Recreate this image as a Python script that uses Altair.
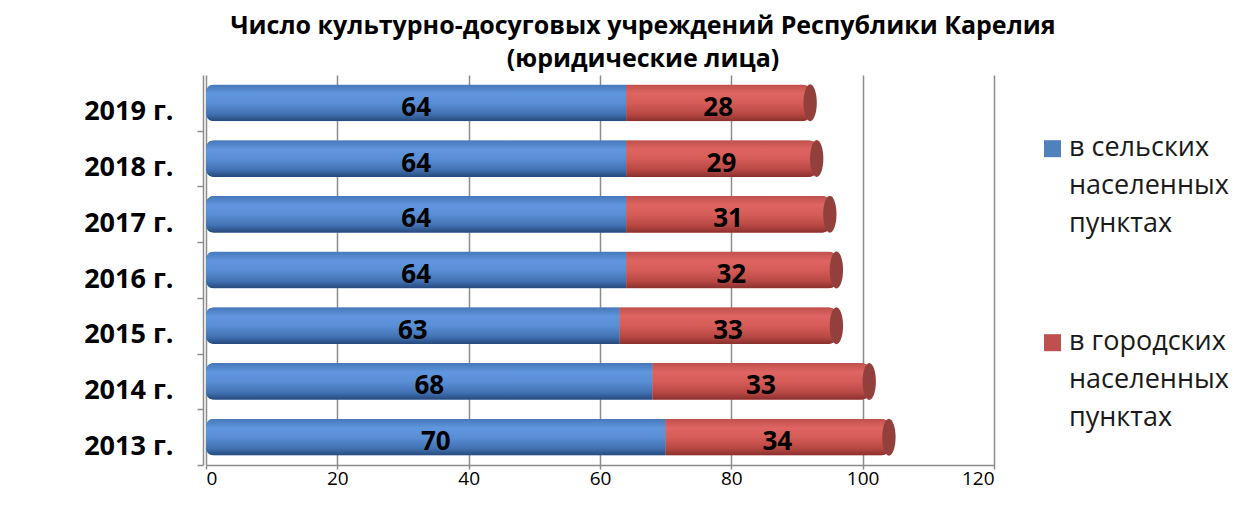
import altair as alt
import pandas as pd

years = ["2019 г.", "2018 г.", "2017 г.", "2016 г.", "2015 г.", "2014 г.", "2013 г."]
rural = [64, 64, 64, 64, 63, 68, 70]
urban = [28, 29, 31, 32, 33, 33, 34]
series = ["в сельских\nнаселенных\nпунктах", "в городских\nнаселенных\nпунктах"]
colors = ["#4f81bd", "#c0504d"]
title_lines = ["Число культурно-досуговых учреждений Республики Карелия", "(юридические лица)"]
x_ticks = [0, 20, 40, 60, 80, 100, 120]

rows = []
for y, r, u in zip(years, rural, urban):
    rows.append({"year": y, "series": series[0], "value": r, "order": 0})
    rows.append({"year": y, "series": series[1], "value": u, "order": 1})
df = pd.DataFrame(rows)

totals = pd.DataFrame({"year": years, "total": [r + u for r, u in zip(rural, urban)]})

FONT = "Open Sans"
GRID = "#8c8c8c"
H = 390
STEP = H / 7.0

y_enc = alt.Y("year:N", sort=years, title=None,
              scale=alt.Scale(paddingInner=0.34, paddingOuter=0.17),
              axis=alt.Axis(labelFont=FONT, labelFontSize=27, labelFontWeight="bold",
                            labelColor="#000000", labelPadding=24,
                            tickOffset=STEP / 2, labelOffset=9 - STEP / 2,
                            tickSize=6, tickColor=GRID,
                            domainColor=GRID, domainWidth=1.5, tickWidth=1.5, offset=3,
                            grid=False))
x_enc = alt.X("sum(value):Q", title=None, stack="zero",
              scale=alt.Scale(domain=[0, 120], nice=False),
              axis=alt.Axis(values=x_ticks, labelFont=FONT, labelFontSize=19,
                            labelColor="#000000", labelPadding=0, tickSize=4,
                            tickColor=GRID, domainColor=GRID, domainWidth=1.5, tickWidth=1.5,
                            offset=0, grid=True, gridColor=GRID, gridWidth=1.5))

base = alt.Chart(df).encode(
    y=y_enc,
    x=x_enc,
    order=alt.Order("order:Q"),
)

legend_bars = base.mark_bar(cornerRadius=8).encode(
    color=alt.Color("series:N", sort=series,
                    scale=alt.Scale(domain=series, range=colors),
                    legend=alt.Legend(title=None, orient="none", legendX=833, legendY=67,
                                      labelExpr="split(datum.label, '\\n')",
                                      labelFont=FONT, labelFontSize=27, labelColor="#1a1a1a",
                                      labelBaseline="alphabetic",
                                      labelOffset=3,
                                      symbolType="M-1,-1.8H1V0.2H-1Z", symbolSize=289,
                                      symbolStrokeWidth=0, rowPadding=90, padding=0,
                                      labelLimit=400))
)

blue_grad = alt.LinearGradient(
    gradient="linear", x1=0, x2=0, y1=0, y2=1,
    stops=[alt.GradientStop(color="#4677ba", offset=0),
           alt.GradientStop(color="#5f96dd", offset=0.25),
           alt.GradientStop(color="#5a8fd6", offset=0.5),
           alt.GradientStop(color="#4272b3", offset=0.8),
           alt.GradientStop(color="#25497c", offset=1)])
red_grad = alt.LinearGradient(
    gradient="linear", x1=0, x2=0, y1=0, y2=1,
    stops=[alt.GradientStop(color="#c0504d", offset=0),
           alt.GradientStop(color="#de6561", offset=0.25),
           alt.GradientStop(color="#d65c58", offset=0.5),
           alt.GradientStop(color="#b84844", offset=0.8),
           alt.GradientStop(color="#8a302d", offset=1)])

rural_bars = base.mark_bar(color=blue_grad, cornerRadiusTopLeft=8,
                           cornerRadiusBottomLeft=8).transform_filter(
    alt.datum.order == 0)
urban_bars = alt.Chart(df).mark_bar(color=red_grad, cornerRadiusTopRight=8,
                                    cornerRadiusBottomRight=8).encode(
    y=alt.Y("year:N", sort=years),
    x=alt.X("sum(value):Q", stack="zero"),
    order=alt.Order("order:Q"),
    opacity=alt.condition(alt.datum.order == 1, alt.value(1), alt.value(0)),
)

caps = alt.Chart(totals).mark_point(
    shape="M0,-1 A0.36,1 0 1,1 0,1 A0.36,1 0 1,1 0,-1 Z",
    filled=True, color="#93403d", opacity=1, size=1369, xOffset=0,
).encode(
    y=alt.Y("year:N", sort=years),
    x=alt.X("total:Q"),
)

seg = alt.Chart(df).transform_stack(
    stack="value", groupby=["year"], as_=["v0", "v1"], sort=[alt.SortField("order")]
).transform_calculate(mid="(datum.v0 + datum.v1) / 2").mark_text(
    font=FONT, fontSize=26, fontWeight="bold", color="#000000", dy=5
).encode(
    y=alt.Y("year:N", sort=years),
    x=alt.X("mid:Q"),
    text=alt.Text("value:Q"),
)

chart = alt.layer(legend_bars, rural_bars, urban_bars, caps, seg).properties(
    width=788, height=H,
    padding={"left": 198, "top": 67, "right": 258, "bottom": 29},
    autosize="none",
    title=alt.TitleParams(text=title_lines, font=FONT, fontSize=25, fontWeight="bold",
                          color="#000000", lineHeight=33, anchor="middle", dx=43, dy=12,
                          offset=15),
).configure(
    style={"guide-label": {"lineHeight": 38}}
).configure_view(stroke=None)

chart.save("out.html", embed_options={"renderer": "svg", "actions": False})
